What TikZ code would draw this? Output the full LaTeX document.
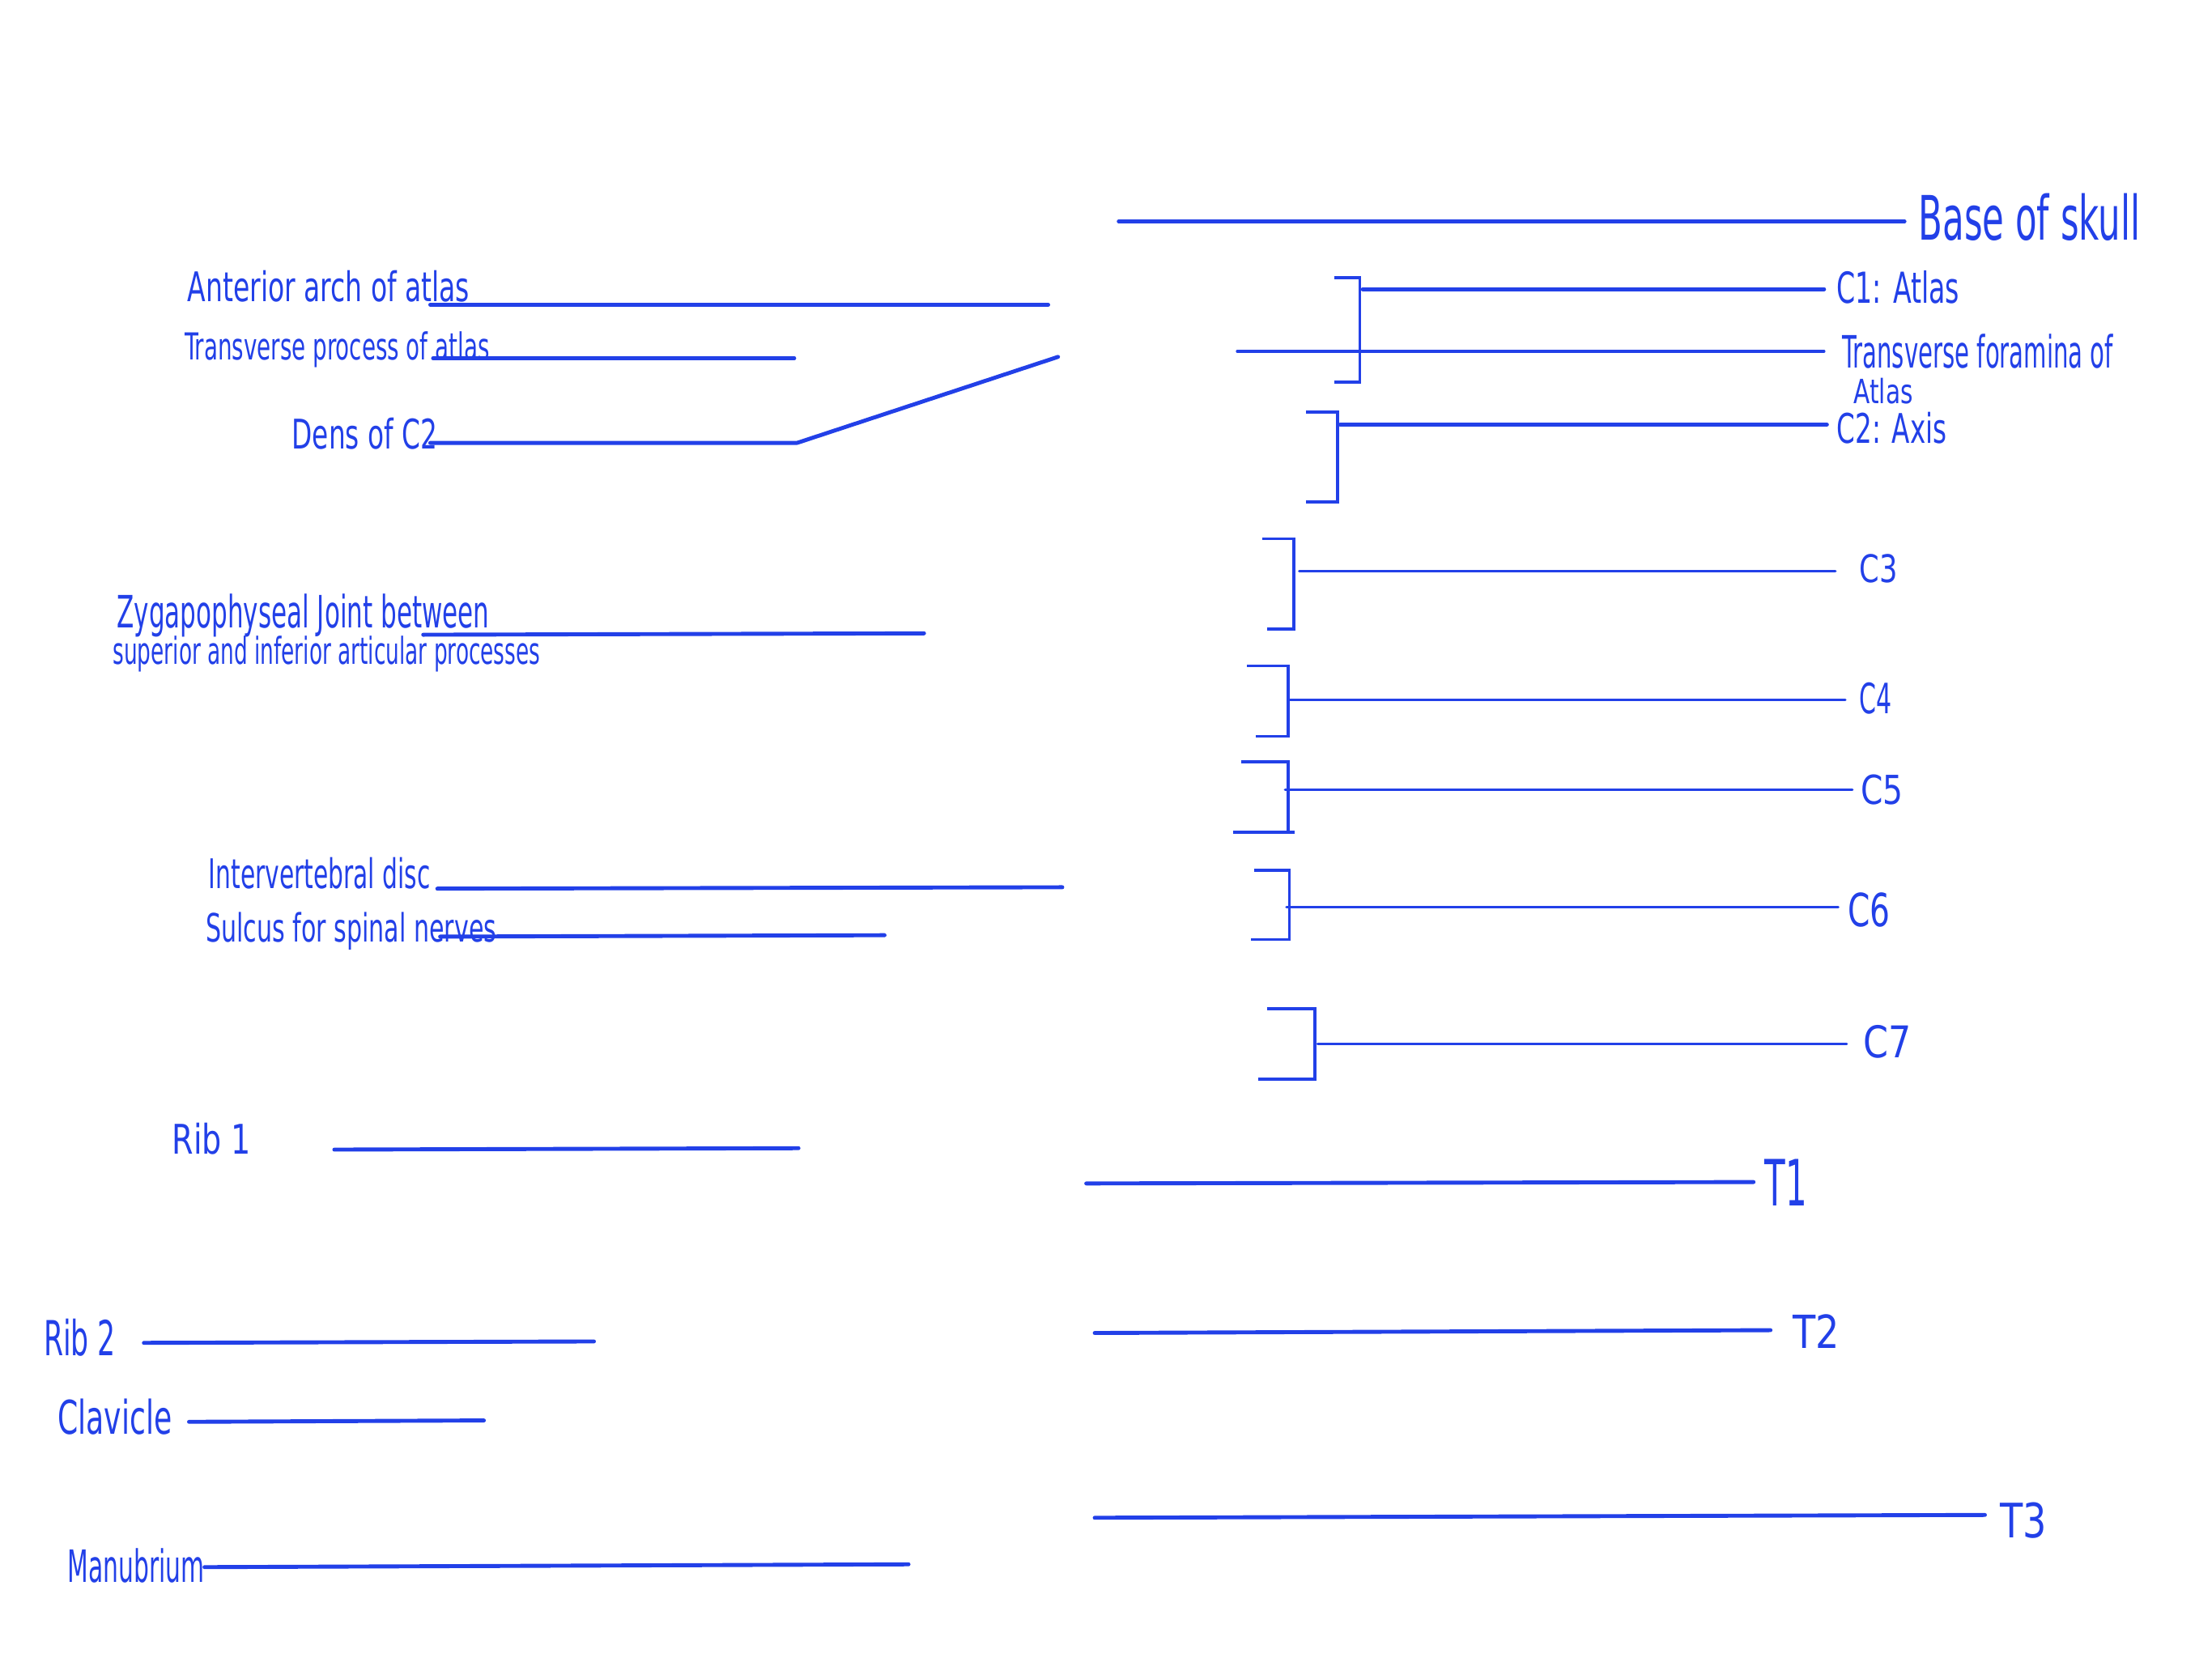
\documentclass[tikz,border=0pt]{standalone}
\usepackage{fontspec}
\setmainfont{DejaVu Sans Condensed}
\usepackage{graphicx}
\definecolor{ink}{RGB}{34,64,232}
\newlength{\ulen}\setlength{\ulen}{0.02cm}
\newcommand{\hw}[3]{\resizebox{#1\ulen}{#2\ulen}{#3}}
\begin{document}
\begin{tikzpicture}[x=0.02cm,y=-0.02cm,
  lbl/.style={anchor=base west,inner sep=0pt,outer sep=0pt,text=ink},
  lead/.style={draw=ink,line width=1.6pt,line cap=round},
  leadthin/.style={draw=ink,line width=1.1pt,line cap=round},
  brk/.style={draw=ink,line width=1.2pt,line cap=butt,line join=miter}]
\useasboundingbox[fill=white] (0,0) rectangle (1568,1175);

% ---------- left labels ----------
\node[lbl] (anterior) at (133,214) {\hw{200}{22}{Anterior arch of atlas}};
\node[lbl] (transproc) at (131,255) {\hw{216}{20}{Transverse process of atlas}};
\node[lbl] (dens) at (207,318) {\hw{103}{22}{Dens of C2}};
\node[lbl] (zyg1) at (83,445) {\hw{264}{24}{Zygapophyseal Joint between}};
\node[lbl] (zyg2) at (80,471) {\hw{303}{20}{superior and inferior articular processes}};
\node[lbl] (disc) at (148,630) {\hw{157}{22}{Intervertebral disc}};
\node[lbl] (sulcus) at (146,668) {\hw{206}{21}{Sulcus for spinal nerves}};
\node[lbl] (rib1) at (122,818) {\hw{56}{22}{Rib 1}};
\node[lbl] (rib2) at (31,961) {\hw{51}{26}{Rib 2}};
\node[lbl] (clav) at (41,1017) {\hw{81}{25}{Clavicle}};
\node[lbl] (manu) at (48,1122) {\hw{97}{24}{Manubrium}};

% ---------- right labels ----------
\node[lbl] (skull) at (1360,170) {\hw{157}{33}{Base of skull}};
\node[lbl] (c1) at (1302,215) {\hw{87}{23}{C1: Atlas}};
\node[lbl] (tf1) at (1306,261) {\hw{192}{24}{Transverse foramina of}};
\node[lbl] (tf2) at (1314,286) {\hw{42}{18}{Atlas}};
\node[lbl] (c2) at (1302,314) {\hw{78}{22}{C2: Axis}};
\node[lbl] (c3) at (1318,413) {\hw{27}{20}{C3}};
\node[lbl] (c4) at (1318,506) {\hw{23}{22}{C4}};
\node[lbl] (c5) at (1319,570) {\hw{30}{21}{C5}};
\node[lbl] (c6) at (1310,657) {\hw{30}{24}{C6}};
\node[lbl] (c7) at (1321,750) {\hw{34}{23}{C7}};
\node[lbl] (t1) at (1251,855) {\hw{30}{33}{T1}};
\node[lbl] (t2) at (1271,956) {\hw{33}{24}{T2}};
\node[lbl] (t3) at (1418,1090) {\hw{33}{25}{T3}};

% ---------- left leader lines ----------
\coordinate (an1) at (305,216); \coordinate (an2) at (743,216);
\draw[lead] (an1) -- (an2);
\coordinate (tp1) at (307,254); \coordinate (tp2) at (563,254);
\draw[lead] (tp1) -- (tp2);
\coordinate (de1) at (305,314); \coordinate (de2) at (565,314); \coordinate (de3) at (750,253);
\draw[lead,line join=round] (de1) -- (de2) -- (de3);
\coordinate (zy1) at (300,450); \coordinate (zy2) at (655,449);
\draw[lead] (zy1) -- (zy2);
\coordinate (di1) at (310,630); \coordinate (di2) at (753,629);
\draw[lead] (di1) -- (di2);
\coordinate (su1) at (312,664); \coordinate (su2) at (627,663);
\draw[lead] (su1) -- (su2);
\coordinate (r11) at (237,815); \coordinate (r12) at (566,814);
\draw[lead] (r11) -- (r12);
\coordinate (r21) at (102,952); \coordinate (r22) at (421,951);
\draw[lead] (r21) -- (r22);
\coordinate (cl1) at (134,1008); \coordinate (cl2) at (343,1007);
\draw[lead] (cl1) -- (cl2);
\coordinate (ma1) at (145,1111); \coordinate (ma2) at (644,1109);
\draw[lead] (ma1) -- (ma2);

% ---------- right leader lines ----------
\coordinate (sk1) at (793,157); \coordinate (sk2) at (1350,157);
\draw[lead] (sk1) -- (sk2);
\coordinate (ca1) at (966,205); \coordinate (ca2) at (1293,205);
\draw[lead] (ca1) -- (ca2);
\coordinate (tf1a) at (877,249); \coordinate (tf1b) at (1293,249);
\draw[leadthin] (tf1a) -- (tf1b);
\coordinate (cb1) at (950,301); \coordinate (cb2) at (1295,301);
\draw[lead] (cb1) -- (cb2);
\coordinate (cc1) at (921,405); \coordinate (cc2) at (1301,405);
\draw[leadthin] (cc1) -- (cc2);
\coordinate (cd1) at (914,496); \coordinate (cd2) at (1308,496);
\draw[leadthin] (cd1) -- (cd2);
\coordinate (ce1) at (911,560); \coordinate (ce2) at (1313,560);
\draw[leadthin] (ce1) -- (ce2);
\coordinate (cf1) at (912,643); \coordinate (cf2) at (1303,643);
\draw[leadthin] (cf1) -- (cf2);
\coordinate (cg1) at (934,740); \coordinate (cg2) at (1309,740);
\draw[leadthin] (cg1) -- (cg2);
\coordinate (ta1) at (770,839); \coordinate (ta2) at (1243,838);
\draw[lead] (ta1) -- (ta2);
\coordinate (tb1) at (776,945); \coordinate (tb2) at (1255,943);
\draw[lead] (tb1) -- (tb2);
\coordinate (tc1) at (776,1076); \coordinate (tc2) at (1407,1074);
\draw[lead] (tc1) -- (tc2);

% ---------- vertebra brackets ----------
\draw[brk] (946,197) -- (964,197) -- (964,271) -- (946,271);
\draw[brk] (926,292) -- (948,292) -- (948,356) -- (926,356);
\draw[brk] (895,382) -- (917,382) -- (917,446) -- (898,446);
\draw[brk] (884,472) -- (913,472) -- (913,522) -- (890,522);
\draw[brk] (880,540) -- (913,540) -- (913,590);
\draw[brk] (874,590) -- (918,590);
\draw[brk] (889,617) -- (914,617) -- (914,666) -- (887,666);
\draw[brk] (898,715) -- (932,715) -- (932,765) -- (892,765);
\end{tikzpicture}
\end{document}
